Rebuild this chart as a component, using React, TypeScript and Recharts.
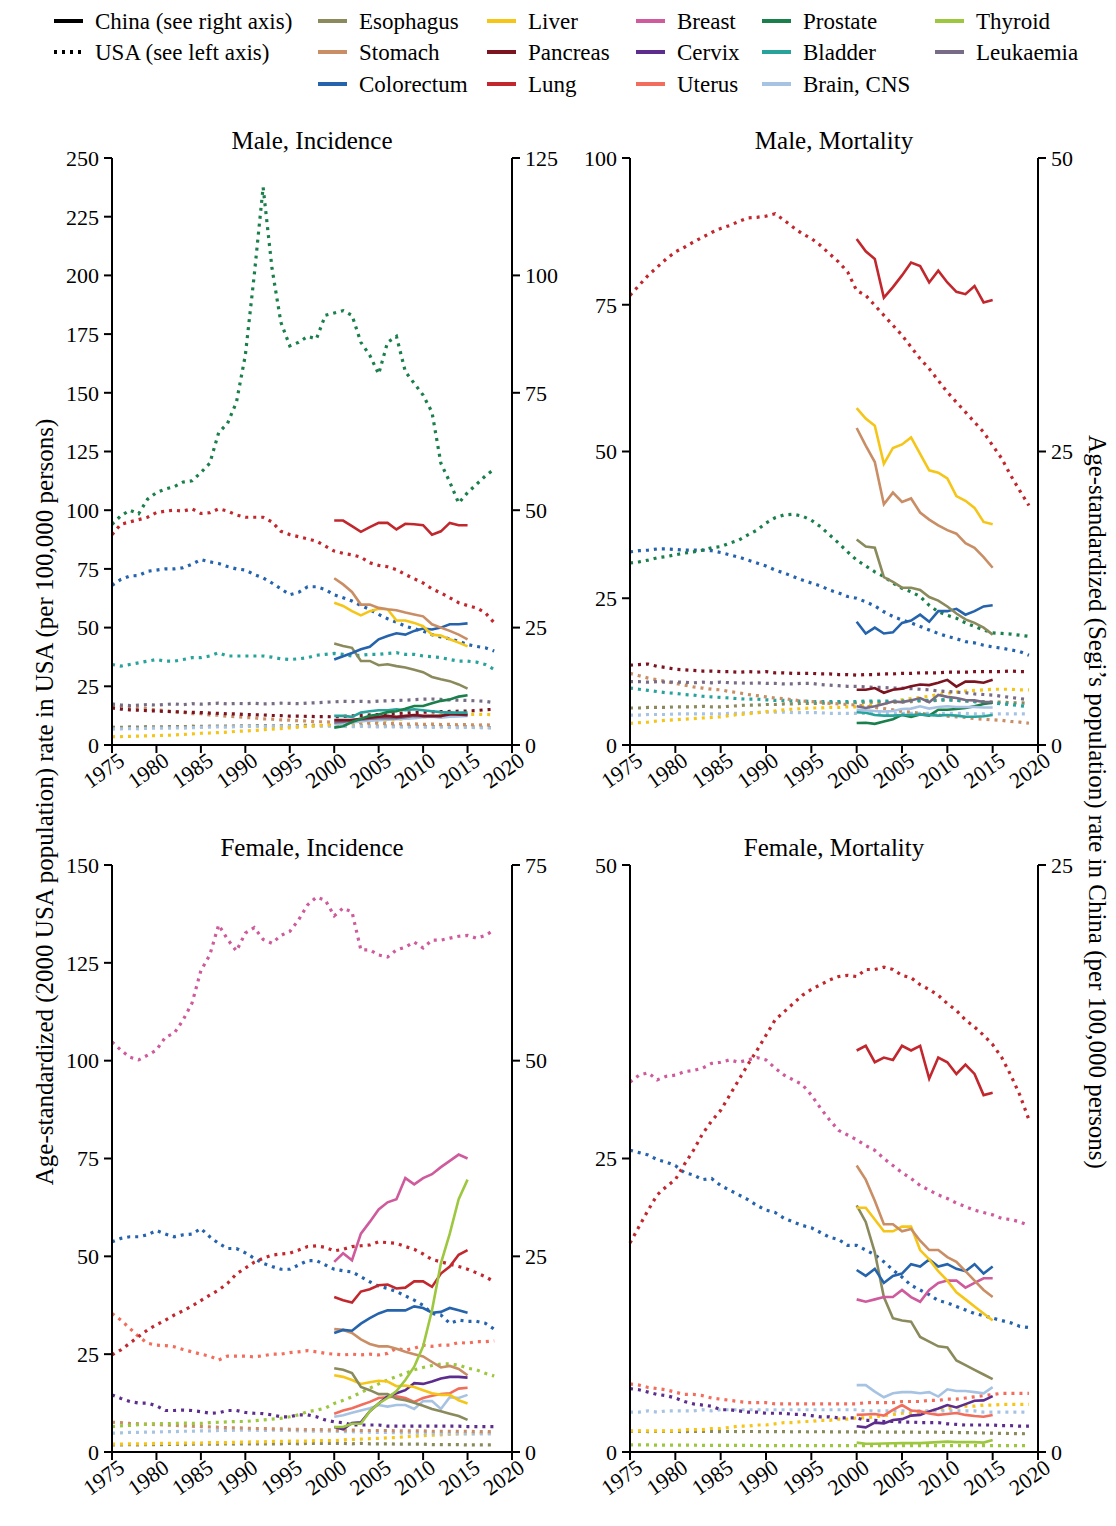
import React from 'react';
import { LineChart, Line, XAxis, YAxis } from 'recharts';

const FONT = '"Liberation Serif", "Times New Roman", Times, serif';

// ---------- categories ----------
const yearTicks = [1975, 1980, 1985, 1990, 1995, 2000, 2005, 2010, 2015, 2020];
const usaStartYear = 1975;
const chinaYears = [2000, 2001, 2002, 2003, 2004, 2005, 2006, 2007, 2008, 2009, 2010, 2011, 2012, 2013, 2014, 2015];

const cancerColors: Record<string, string> = {
  Esophagus: '#8b8a5c',
  Stomach: '#c98e65',
  Colorectum: '#2563ad',
  Liver: '#f5c518',
  Pancreas: '#7b1320',
  Lung: '#c1272d',
  Breast: '#cf5a9c',
  Cervix: '#5c2d8c',
  Uterus: '#f26d5b',
  Prostate: '#1a7f4b',
  Bladder: '#27a39c',
  'Brain, CNS': '#a7c3e3',
  Thyroid: '#9dc73e',
  Leukaemia: '#786b85',
};

// ---------- Male incidence, USA (1975-2018) ----------
const usaMaleIncProstate = [94, 97.6, 100, 98.5, 104.7, 107.5, 109, 110, 112, 112.5, 116, 120, 133, 137, 146, 166, 200, 237.6, 203, 180, 170, 171.5, 174, 173, 183, 184, 185, 183, 171.5, 166, 158, 171.5, 174, 159, 154, 149, 141.7, 120, 112, 103, 107.5, 111, 114.6, 117.5];
const usaMaleIncLung = [89.6, 94, 95, 96, 97, 99, 99.6, 100, 99.6, 100.6, 98.6, 98.9, 100.6, 99.6, 98, 97, 97, 97, 95, 91, 89.6, 88.7, 87.8, 86.8, 84.7, 82.6, 81.6, 81, 80, 77.6, 76.5, 75.9, 74.7, 72.6, 70.8, 69, 66.5, 64.8, 62.7, 60.6, 59.4, 58.4, 56.3, 52];
const usaMaleIncColorectum = [68, 70.5, 72, 72.2, 74, 74.5, 75, 75, 75.5, 77, 79, 78, 77.3, 76, 75, 74.5, 72.6, 71.2, 69, 66.5, 64, 65, 67.4, 67.4, 66.2, 64, 62.7, 61.3, 59.4, 57.7, 55.6, 53.8, 52.3, 50.6, 49.5, 48.5, 47, 46, 45.2, 44.2, 42.8, 42, 41.4, 40];
const usaMaleIncBladder = [34.3, 33.6, 34.3, 35, 35.7, 36.4, 35.7, 35.7, 36.4, 37.2, 37.2, 37.9, 39.3, 37.9, 37.9, 37.9, 37.9, 37.9, 37.4, 36.7, 36.4, 36.7, 37.2, 38.2, 38.6, 39, 38.6, 37.9, 38.2, 38.6, 38.6, 39, 39.3, 38.6, 38.6, 37.9, 37.6, 37.2, 36.4, 35.7, 35.7, 35.3, 34.3, 32.2];
const usaMaleIncLeukaemia = [17.5, 17, 16.8, 17, 17.2, 17, 17.3, 17.5, 17.2, 17.6, 17.4, 17.6, 17.8, 17.5, 17.7, 17.6, 17.8, 17.5, 17.6, 17.8, 17.7, 17.6, 17.9, 18, 18.2, 18.4, 18.6, 18.5, 18.6, 18.4, 18.7, 18.8, 19, 19.1, 19.3, 19.5, 19.6, 19.4, 19.2, 19.1, 19, 18.8, 18.6, 18];
const usaMaleIncPancreas = [15.8, 15.3, 15, 14.8, 14.6, 14.5, 14.3, 14.2, 14, 13.9, 13.8, 13.6, 13.5, 13.3, 13.2, 13, 12.9, 12.8, 12.6, 12.5, 12.3, 12.3, 12.2, 12.1, 12.1, 12, 12.2, 12.4, 12.6, 12.8, 13, 13.2, 13.4, 13.6, 13.8, 14, 14.1, 14.2, 14.3, 14.4, 14.5, 14.7, 15, 15.2];
const usaMaleIncStomach = [17, 16.5, 16.3, 15.7, 15.5, 14.9, 14.7, 14.1, 13.9, 13.4, 13.3, 12.8, 12.7, 12.2, 12.1, 11.7, 11.6, 11.1, 11, 10.7, 10.6, 10.3, 10.2, 9.9, 9.9, 9.7, 9.7, 9.5, 9.5, 9.3, 9.3, 9.1, 9.1, 8.9, 9, 8.8, 8.9, 8.7, 8.8, 8.6, 8.7, 8.5, 8.6, 8.4];
const usaMaleIncEsophagus = [7.6, 7.5, 7.7, 7.6, 7.8, 7.7, 7.8, 7.9, 7.8, 8, 7.9, 8, 8.1, 8, 8.2, 8.1, 8.2, 8.3, 8.2, 8.3, 8.2, 8.3, 8.4, 8.3, 8.2, 8.3, 8.2, 8.1, 8.2, 8.1, 8, 8.1, 8, 7.9, 8, 7.9, 7.8, 7.9, 7.8, 7.7, 7.8, 7.6, 7.5, 7.4];
const usaMaleIncBrain = [6.8, 6.9, 7, 6.9, 7.1, 7.2, 7.1, 7.3, 7.2, 7.4, 7.5, 7.6, 7.7, 7.6, 7.8, 7.9, 8, 7.9, 8, 8.1, 8, 7.9, 8, 8.1, 8, 8, 7.9, 7.8, 7.9, 7.8, 7.7, 7.8, 7.7, 7.6, 7.7, 7.6, 7.5, 7.6, 7.5, 7.4, 7.5, 7.4, 7.3, 7.2];
const usaMaleIncLiver = [3.5, 3.6, 3.7, 3.8, 3.9, 4, 4.1, 4.3, 4.5, 4.7, 5, 5.1, 5.3, 5.5, 5.8, 6, 6.2, 6.5, 6.8, 7, 7.3, 7.6, 7.9, 8.2, 8.5, 8.7, 9, 9.3, 9.6, 9.8, 10, 10.4, 10.8, 11.2, 11.6, 12, 12.3, 12.6, 12.8, 13, 13, 13.1, 13, 12.9];

// ---------- Male incidence, China (2000-2015) ----------
const cnMaleIncLung = [47.8, 47.8, 46.6, 45.4, 46.4, 47.3, 47.3, 45.9, 47.1, 47, 46.8, 44.8, 45.5, 47.3, 46.8, 46.8];
const cnMaleIncStomach = [35.5, 34.2, 32.6, 29.9, 29.9, 29.2, 28.9, 28.7, 28.2, 27.8, 27.4, 25.7, 25, 24.3, 23.5, 22.5];
const cnMaleIncLiver = [30.3, 29.6, 28.5, 27.6, 28.5, 29, 28.9, 26.5, 26.5, 26, 25.3, 23.5, 23.3, 22.5, 21.8, 21];
const cnMaleIncColorectum = [18.2, 18.9, 19.6, 20.4, 20.9, 22.5, 23.2, 23.8, 23.5, 24.3, 24.8, 24.6, 25, 25.7, 25.7, 25.9];
const cnMaleIncEsophagus = [21.6, 21.1, 20.7, 17.9, 17.9, 17, 17.2, 16.8, 16.5, 16, 15.5, 14.5, 14, 13.6, 12.9, 12];
const cnMaleIncProstate = [3.7, 4, 4.9, 5.6, 6.2, 6.5, 7, 7.2, 7.7, 8.3, 8.3, 8.9, 9.4, 9.7, 10.3, 10.6];
const cnMaleIncBladder = [6.2, 6.2, 6, 6.9, 7.2, 7.4, 7.4, 7.6, 7.4, 7.6, 7.4, 7.2, 7, 6.9, 6.9, 6.9];
const cnMaleIncPancreas = [5.3, 5.3, 5.3, 5.6, 5.8, 6, 6.2, 6, 6.2, 6.4, 6.2, 6.2, 6.2, 6.5, 6.5, 6.5];
const cnMaleIncLeukaemia = [4.8, 4.9, 5.3, 5.4, 5.6, 5.7, 5.7, 5.7, 5.9, 6.2, 6.1, 6.1, 6.1, 7, 6.5, 6.3];
const cnMaleIncBrain = [4.4, 4.6, 4.8, 5, 5.2, 5.3, 5.4, 5.5, 5.6, 5.7, 5.9, 6, 5.8, 6, 6.1, 6.2];

// ---------- Male mortality, USA (1975-2019) ----------
const usaMaleMortLung = [76.6, 78.3, 80, 81.4, 82.8, 84, 84.8, 85.7, 86.5, 87.3, 88, 88.5, 89.2, 89.8, 89.9, 90.1, 90.5, 89.4, 88.2, 87.1, 86.3, 85.1, 83.7, 82.3, 80.6, 77.4, 76.6, 74.9, 73.2, 71.5, 69.8, 67.8, 65.8, 64.1, 62.1, 60.1, 58.4, 56.7, 55, 53.3, 51, 48.8, 45.9, 43.3, 40.8];
const usaMaleMortProstate = [31, 31.2, 31.5, 31.9, 32.1, 32.4, 32.7, 32.9, 33.2, 33.6, 33.8, 34.4, 34.9, 35.8, 36.6, 37.8, 38.7, 39.2, 39.3, 39, 38.3, 37.2, 35.8, 34.4, 32.9, 31.5, 30.5, 29.5, 28.7, 27.6, 26.7, 26.1, 25.3, 23.8, 22.7, 22.1, 21.6, 20.8, 20.2, 19.6, 19.1, 19, 18.9, 18.7, 18.5];
const usaMaleMortColorectum = [32.9, 33.1, 33.2, 33.4, 33.4, 33.3, 33.2, 33.2, 33.2, 33.1, 32.8, 32.4, 32, 31.5, 31, 30.5, 29.8, 29.3, 28.7, 28.1, 27.6, 27.1, 26.4, 25.9, 25.3, 25, 24.4, 23.7, 22.7, 21.9, 21.3, 20.8, 20.2, 19.6, 19, 18.5, 18.1, 17.6, 17.4, 17, 16.7, 16.5, 16.2, 15.9, 15.3];
const usaMaleMortPancreas = [13.6, 13.7, 13.8, 13.4, 13.2, 12.9, 12.8, 12.7, 12.6, 12.6, 12.5, 12.5, 12.4, 12.5, 12.4, 12.5, 12.3, 12.3, 12.2, 12.2, 12.2, 12.1, 12.1, 12, 12, 11.9, 12, 12, 12.1, 12.1, 12.2, 12.2, 12.3, 12.3, 12.3, 12.4, 12.4, 12.4, 12.5, 12.5, 12.5, 12.5, 12.6, 12.5, 12.5];
const usaMaleMortLeukaemia = [10.8, 10.8, 10.7, 10.8, 10.7, 10.7, 10.7, 10.6, 10.7, 10.6, 10.7, 10.6, 10.6, 10.5, 10.6, 10.5, 10.5, 10.4, 10.4, 10.5, 10.5, 10.3, 10.2, 10.1, 10, 10, 9.9, 9.8, 9.8, 9.7, 9.7, 9.6, 9.5, 9.4, 9.2, 9.1, 9, 8.9, 8.7, 8.6, 8.5, 8.3, 8.1, 7.9, 7.7];
const usaMaleMortStomach = [12.2, 11.8, 11.4, 11.1, 10.8, 10.5, 10.2, 9.9, 9.7, 9.5, 9.4, 9.1, 8.9, 8.6, 8.4, 8.2, 8, 7.9, 7.7, 7.5, 7.4, 7.3, 7.1, 7, 6.9, 6.8, 6.6, 6.4, 6.2, 6, 5.7, 5.6, 5.4, 5.2, 5.1, 4.9, 4.8, 4.7, 4.5, 4.4, 4.3, 4.2, 4, 3.9, 3.7];
const usaMaleMortBladder = [9.7, 9.5, 9.3, 9.1, 8.9, 8.8, 8.6, 8.5, 8.3, 8.2, 8.1, 8, 7.9, 7.8, 7.8, 7.7, 7.6, 7.6, 7.5, 7.5, 7.4, 7.4, 7.4, 7.4, 7.4, 7.4, 7.5, 7.5, 7.5, 7.5, 7.5, 7.6, 7.6, 7.6, 7.7, 7.7, 7.6, 7.5, 7.4, 7.3, 7.2, 7, 6.9, 6.7, 6.5];
const usaMaleMortEsophagus = [6.3, 6.3, 6.4, 6.4, 6.4, 6.5, 6.5, 6.5, 6.6, 6.5, 6.5, 6.6, 6.7, 6.8, 6.8, 6.9, 6.9, 7, 7, 7.1, 7.1, 7.1, 7.2, 7.2, 7.2, 7.2, 7.3, 7.3, 7.3, 7.3, 7.3, 7.4, 7.5, 7.5, 7.6, 7.7, 7.6, 7.5, 7.4, 7.4, 7.3, 7.3, 7.2, 7.2, 7.1];
const usaMaleMortLiver = [3.7, 3.8, 3.9, 4.1, 4.2, 4.3, 4.4, 4.5, 4.6, 4.7, 4.8, 5, 5.2, 5.3, 5.5, 5.7, 5.8, 6, 6.1, 6.2, 6.3, 6.3, 6.4, 6.4, 6.5, 6.5, 6.7, 6.9, 7.1, 7.3, 7.7, 7.9, 8.1, 8.3, 8.6, 8.8, 9, 9.2, 9.3, 9.4, 9.5, 9.5, 9.5, 9.4, 9.4];
const usaMaleMortBrain = [5.1, 5.1, 5.2, 5.2, 5.2, 5.3, 5.3, 5.3, 5.3, 5.3, 5.3, 5.4, 5.4, 5.5, 5.5, 5.6, 5.6, 5.6, 5.5, 5.5, 5.5, 5.5, 5.4, 5.4, 5.4, 5.4, 5.4, 5.4, 5.4, 5.4, 5.4, 5.4, 5.4, 5.4, 5.4, 5.4, 5.4, 5.4, 5.3, 5.3, 5.3, 5.3, 5.3, 5.3, 5.3];

// ---------- Male mortality, China (2000-2015) ----------
const cnMaleMortLung = [43.1, 42.05, 41.4, 38.1, 39, 40, 41.1, 40.8, 39.4, 40.4, 39.4, 38.6, 38.4, 39.1, 37.7, 37.9];
const cnMaleMortLiver = [28.7, 27.8, 27.2, 23.95, 25.3, 25.6, 26.2, 24.8, 23.4, 23.2, 22.7, 21.2, 20.8, 20.2, 19, 18.8];
const cnMaleMortStomach = [27, 25.5, 24.1, 20.5, 21.5, 20.7, 21, 19.8, 19.2, 18.7, 18.3, 18, 17.2, 16.8, 16, 15.1];
const cnMaleMortEsophagus = [17.5, 16.9, 16.8, 14.3, 13.9, 13.4, 13.4, 13.2, 12.6, 12.3, 11.8, 11.2, 10.7, 10.4, 10, 9.4];
const cnMaleMortColorectum = [10.5, 9.5, 10, 9.5, 9.6, 10.4, 10.6, 11.1, 10.5, 11.4, 11.4, 11.6, 11.1, 11.4, 11.8, 11.9];
const cnMaleMortPancreas = [4.7, 4.7, 4.85, 4.45, 4.7, 4.8, 5, 5.15, 5.1, 5.3, 5.55, 4.97, 5.4, 5.4, 5.3, 5.55];
const cnMaleMortLeukaemia = [3.3, 3.15, 3.3, 3.5, 3.7, 3.65, 3.8, 4, 3.65, 4.26, 4.1, 4, 3.83, 3.8, 3.66, 3.66];
const cnMaleMortBrain = [3, 2.95, 2.9, 2.85, 2.9, 3.07, 3.1, 3.3, 3.1, 3.24, 3.3, 3.24, 3.24, 3.24, 3.2, 3.2];
const cnMaleMortBladder = [2.8, 2.75, 2.56, 2.5, 2.5, 2.56, 2.56, 2.6, 2.56, 2.5, 2.56, 2.5, 2.4, 2.4, 2.45, 2.56];
const cnMaleMortProstate = [1.87, 1.9, 1.8, 2, 2.2, 2.56, 2.4, 2.6, 2.5, 3, 3, 3.07, 3.15, 3.3, 3.5, 3.6];

// ---------- Female incidence, USA (1975-2018) ----------
const usaFemIncBreast = [104.8, 102.7, 100.9, 100.2, 101.4, 102.7, 106, 107, 110.4, 114.7, 123, 127, 134.7, 131, 128, 132.6, 134, 131, 130, 132, 133, 136, 139.8, 141.8, 141, 137, 139, 138, 128.3, 128.3, 127, 126.5, 128.3, 129, 130.3, 128.8, 130.8, 130.8, 131.3, 131.8, 132, 131.3, 132, 133.4];
const usaFemIncColorectum = [53.7, 54.6, 55, 55, 55.5, 56.6, 55.7, 55, 55.5, 55.7, 57.1, 55, 53.3, 52, 52, 50.9, 49.5, 48.2, 47.4, 46.7, 46.7, 47.8, 48.9, 48.9, 47.8, 46.7, 46.3, 46, 44.8, 43.5, 42.4, 41.8, 41, 39.9, 38.8, 37.5, 35.4, 35, 32.9, 33.7, 33.4, 33.4, 32.9, 31.4];
const usaFemIncLung = [24.8, 26.1, 27.8, 29.5, 31.2, 32.5, 33.7, 35, 36.1, 37.3, 38.7, 40.1, 41.4, 43.1, 45.5, 47, 48.5, 49.5, 50.3, 50.6, 50.8, 51.6, 52.5, 52.7, 52.3, 51.4, 51.8, 52.5, 52.7, 52.9, 53.7, 53.5, 53.3, 52.5, 51.8, 50.6, 49.2, 48.6, 48, 47.4, 46.7, 45.8, 44.8, 43.5];
const usaFemIncUterus = [35.4, 33.7, 31.6, 29.5, 27.8, 27.3, 27.2, 26.9, 26.2, 25.6, 25, 24.5, 23.5, 24.5, 24.5, 24.5, 24.3, 24.6, 25, 25, 25.4, 25.6, 25.9, 25.6, 25.2, 25, 24.8, 25, 24.8, 25, 24.8, 25.2, 26.5, 26, 26.5, 27.3, 27, 27.3, 27.3, 28, 27.8, 28.2, 28.2, 28.4];
const usaFemIncThyroid = [6.5, 6.7, 6.8, 7, 7.1, 7.3, 7.2, 7.3, 7.4, 7.3, 7.3, 7.5, 7.6, 7.7, 7.8, 7.8, 8, 8.2, 8.4, 8.6, 9, 9.5, 10.3, 10.7, 11.2, 12.4, 13.2, 14.1, 15.2, 16.3, 17.4, 18.4, 19.3, 20.1, 21, 21.6, 22.1, 22.5, 22.5, 22.2, 21.4, 21, 20.1, 19.4];
const usaFemIncCervix = [14.6, 13.7, 12.9, 12.5, 12.5, 11.8, 10.6, 10.6, 10.7, 10.6, 10.3, 9.9, 10, 10.6, 10.6, 10.1, 9.9, 9.8, 9.5, 9, 9, 9.5, 9.5, 9, 8.2, 7.7, 7.5, 6.9, 6.9, 6.9, 6.9, 6.6, 6.6, 6.6, 6.6, 6.6, 6.6, 6.6, 6.6, 6.6, 6.5, 6.5, 6.5, 6.5];
const usaFemIncStomach = [7.6, 7.5, 7.3, 7.2, 7.1, 7, 6.9, 6.8, 6.7, 6.6, 6.5, 6.4, 6.3, 6.2, 6.2, 6.1, 6, 6, 5.9, 5.9, 5.8, 5.8, 5.7, 5.7, 5.7, 5.6, 5.6, 5.6, 5.5, 5.5, 5.5, 5.5, 5.4, 5.4, 5.4, 5.4, 5.3, 5.3, 5.3, 5.3, 5.3, 5.2, 5.2, 5.2];
const usaFemIncBrain = [4.8, 4.9, 5, 5, 5.1, 5.1, 5.2, 5.2, 5.3, 5.3, 5.4, 5.4, 5.5, 5.5, 5.6, 5.6, 5.6, 5.5, 5.6, 5.5, 5.5, 5.4, 5.4, 5.3, 5.3, 5.3, 5.2, 5.2, 5.1, 5.1, 5, 5, 4.9, 4.9, 4.9, 4.8, 4.8, 4.7, 4.7, 4.7, 4.6, 4.6, 4.6, 4.6];
const usaFemIncLiver = [2, 2, 2.1, 2.1, 2.1, 2.2, 2.2, 2.2, 2.3, 2.3, 2.3, 2.4, 2.4, 2.4, 2.5, 2.5, 2.6, 2.6, 2.7, 2.7, 2.8, 2.8, 2.8, 2.9, 2.9, 2.9, 3.1, 3.2, 3.3, 3.4, 3.5, 3.6, 3.7, 3.9, 4, 4.2, 4.3, 4.4, 4.5, 4.6, 4.7, 4.7, 4.8, 4.8];
const usaFemIncEsophagus = [1.8, 1.8, 1.9, 1.8, 1.9, 1.9, 1.9, 2, 1.9, 2, 2, 2, 2, 2.1, 2, 2.1, 2.1, 2.1, 2.1, 2.1, 2.2, 2.1, 2.2, 2.2, 2.2, 2.2, 2.2, 2.1, 2.2, 2.1, 2.1, 2.1, 2, 2, 2, 2, 1.9, 1.9, 1.9, 1.9, 1.8, 1.8, 1.8, 1.8];

// ---------- Female incidence, China (2000-2015) ----------
const cnFemIncBreast = [24.3, 25.4, 24.5, 27.9, 29.4, 31, 31.9, 32.3, 35, 34.2, 35, 35.5, 36.4, 37.2, 38, 37.5];
const cnFemIncThyroid = [3.2, 3.2, 3.6, 3.6, 5.2, 6.2, 6.9, 7.8, 9.2, 10.9, 13.5, 18.1, 24.1, 27.9, 32.3, 34.8];
const cnFemIncLung = [19.8, 19.4, 19.1, 20.5, 20.8, 21.3, 21.4, 20.9, 21, 21.8, 21.8, 21.1, 22.8, 23.7, 25.2, 25.8];
const cnFemIncColorectum = [15.2, 15.6, 15.5, 16.4, 17.1, 17.7, 18.1, 18.1, 18.1, 18.6, 18.4, 17.8, 17.9, 18.4, 18.1, 17.8];
const cnFemIncStomach = [15.7, 15.6, 15.2, 14.4, 13.8, 13.5, 13.5, 13.2, 12.8, 12.5, 12.2, 11.5, 10.8, 11, 10.6, 9.8];
const cnFemIncEsophagus = [10.7, 10.5, 10.1, 8.3, 7.9, 7.4, 7.4, 6.8, 6.6, 6.3, 5.9, 5.5, 5.2, 4.9, 4.6, 4.1];
const cnFemIncLiver = [9.8, 9.6, 9.2, 8.7, 8.9, 9.1, 9, 8.4, 8.5, 8.3, 7.9, 7.5, 7.3, 7.3, 6.6, 6.2];
const cnFemIncCervix = [3.2, 2.9, 3.7, 3.8, 5.2, 6.2, 7.1, 7.5, 7.9, 8.8, 8.7, 9, 9.4, 9.6, 9.6, 9.5];
const cnFemIncUterus = [4.9, 5.3, 5.6, 6, 6.4, 6.9, 7, 7.1, 6.9, 6.4, 6.9, 7.2, 7.4, 7.5, 8.1, 8.2];
const cnFemIncBrain = [4.5, 4.7, 5, 5.3, 5.6, 6, 5.8, 6, 6, 5.5, 6.5, 6.5, 5.5, 7, 6.9, 7.3];

// ---------- Female mortality, USA (1975-2019) ----------
const usaFemMortLung = [17.8, 19.2, 20.6, 21.9, 22.6, 23.2, 24.5, 25.7, 27.1, 28.2, 29.1, 30.4, 31.7, 33, 34.2, 35.5, 36.8, 37.5, 38.2, 38.9, 39.4, 39.8, 40.2, 40.5, 40.6, 40.5, 41.1, 41.1, 41.3, 41.1, 40.6, 40.4, 39.8, 39.4, 38.9, 38.2, 37.6, 36.8, 36.2, 35.5, 34.7, 33.6, 32.1, 30.4, 28.3];
const usaFemMortBreast = [31.5, 32.1, 32.3, 31.7, 32, 32.1, 32.4, 32.5, 32.7, 33.1, 33.2, 33.4, 33.2, 33.4, 33.6, 33.4, 32.7, 32.1, 31.7, 31.3, 30.4, 29.3, 28.3, 27.4, 27, 26.6, 26.1, 25.7, 25, 24.4, 23.8, 23.3, 22.7, 22.3, 21.9, 21.6, 21.2, 20.9, 20.6, 20.4, 20.2, 19.9, 19.8, 19.6, 19.3];
const usaFemMortColorectum = [25.7, 25.5, 25.3, 24.9, 24.7, 24.4, 23.8, 23.6, 23.2, 23.3, 22.7, 22.3, 21.9, 21.5, 21, 20.6, 20.4, 19.9, 19.6, 19.3, 19.1, 18.7, 18.3, 18.1, 17.6, 17.6, 17.2, 16.8, 16.2, 15.5, 14.9, 14.2, 13.8, 13.4, 12.9, 12.7, 12.4, 12.1, 11.8, 11.6, 11.4, 11.2, 11, 10.7, 10.6];
const usaFemMortUterus = [5.8, 5.7, 5.5, 5.4, 5.3, 5.1, 4.9, 4.9, 4.8, 4.6, 4.5, 4.4, 4.3, 4.2, 4.2, 4.2, 4.1, 4.1, 4.1, 4.1, 4.1, 4.1, 4.1, 4.1, 4.1, 4.1, 4.2, 4.2, 4.2, 4.2, 4.3, 4.3, 4.3, 4.4, 4.4, 4.5, 4.5, 4.6, 4.7, 4.8, 4.9, 5, 5, 5, 5];
const usaFemMortCervix = [5.4, 5.3, 5.1, 4.9, 4.8, 4.6, 4.3, 4.1, 4, 3.9, 3.6, 3.6, 3.5, 3.4, 3.4, 3.3, 3.3, 3.3, 3.2, 3.2, 3.1, 3, 3, 2.9, 2.9, 2.9, 2.7, 2.7, 2.6, 2.6, 2.55, 2.55, 2.5, 2.5, 2.5, 2.4, 2.35, 2.3, 2.3, 2.3, 2.3, 2.25, 2.25, 2.2, 2.2];
const usaFemMortBrain = [3.4, 3.4, 3.5, 3.4, 3.5, 3.5, 3.5, 3.5, 3.6, 3.5, 3.6, 3.6, 3.6, 3.6, 3.6, 3.6, 3.6, 3.6, 3.6, 3.6, 3.6, 3.6, 3.6, 3.6, 3.6, 3.6, 3.5, 3.5, 3.5, 3.5, 3.5, 3.5, 3.5, 3.5, 3.5, 3.5, 3.5, 3.5, 3.5, 3.4, 3.4, 3.4, 3.4, 3.4, 3.4];
const usaFemMortLiver = [1.8, 1.8, 1.8, 1.8, 1.8, 1.8, 1.9, 1.9, 1.9, 2, 2, 2.1, 2.2, 2.2, 2.3, 2.3, 2.4, 2.5, 2.5, 2.6, 2.6, 2.7, 2.7, 2.8, 2.8, 2.9, 2.9, 3, 3.1, 3.2, 3.3, 3.3, 3.4, 3.5, 3.6, 3.7, 3.8, 3.9, 3.9, 4, 4, 4.05, 4.05, 4.05, 4.05];
const usaFemMortEsophagus = [1.75, 1.76, 1.74, 1.75, 1.76, 1.75, 1.74, 1.75, 1.76, 1.75, 1.74, 1.75, 1.74, 1.75, 1.74, 1.73, 1.74, 1.73, 1.72, 1.73, 1.72, 1.73, 1.72, 1.71, 1.72, 1.71, 1.7, 1.71, 1.7, 1.69, 1.7, 1.69, 1.68, 1.69, 1.68, 1.67, 1.66, 1.65, 1.64, 1.62, 1.6, 1.59, 1.57, 1.56, 1.55];
const usaFemMortThyroid = [0.6, 0.6, 0.6, 0.59, 0.59, 0.58, 0.58, 0.58, 0.57, 0.57, 0.57, 0.56, 0.56, 0.56, 0.55, 0.55, 0.55, 0.55, 0.55, 0.55, 0.54, 0.54, 0.54, 0.54, 0.54, 0.54, 0.54, 0.54, 0.54, 0.54, 0.55, 0.55, 0.55, 0.55, 0.55, 0.55, 0.55, 0.55, 0.55, 0.55, 0.55, 0.55, 0.55, 0.55, 0.55];

// ---------- Female mortality, China (2000-2015) ----------
const cnFemMortLung = [17.1, 17.3, 16.6, 16.8, 16.7, 17.3, 17.1, 17.3, 15.9, 16.8, 16.6, 16.1, 16.5, 16.1, 15.2, 15.3];
const cnFemMortStomach = [12.2, 11.6, 10.7, 9.7, 9.7, 9.4, 9.5, 9, 8.6, 8.6, 8.3, 8.1, 7.7, 7.3, 6.9, 6.6];
const cnFemMortLiver = [10.4, 10.4, 9.9, 9.4, 9.4, 9.6, 9.6, 8.6, 8.2, 7.7, 7.3, 6.8, 6.5, 6.2, 5.9, 5.6];
const cnFemMortColorectum = [7.75, 7.5, 7.8, 7.2, 7.5, 7.6, 8, 7.9, 8.2, 7.9, 8, 7.8, 7.7, 8, 7.6, 7.9];
const cnFemMortBreast = [6.5, 6.4, 6.5, 6.6, 6.6, 6.9, 6.6, 6.4, 6.9, 7.2, 7.3, 7.3, 7, 7.2, 7.4, 7.4];
const cnFemMortEsophagus = [10.5, 9.8, 8.5, 6.6, 5.7, 5.6, 5.55, 4.9, 4.7, 4.5, 4.45, 3.9, 3.7, 3.5, 3.3, 3.1];
const cnFemMortBrain = [2.85, 2.85, 2.57, 2.33, 2.5, 2.55, 2.55, 2.5, 2.55, 2.36, 2.67, 2.6, 2.6, 2.55, 2.5, 2.76];
const cnFemMortUterus = [1.58, 1.6, 1.62, 1.55, 1.79, 2, 1.77, 1.73, 1.64, 1.58, 1.62, 1.66, 1.58, 1.53, 1.5, 1.58];
const cnFemMortCervix = [1.1, 1.05, 1.25, 1.22, 1.36, 1.4, 1.55, 1.58, 1.73, 1.85, 2, 1.9, 2.04, 2.18, 2.2, 2.38];
const cnFemMortThyroid = [0.4, 0.35, 0.35, 0.36, 0.37, 0.38, 0.38, 0.38, 0.4, 0.42, 0.44, 0.42, 0.42, 0.42, 0.4, 0.51];

// ---------- axis ticks ----------
const maleIncLeftTicks = [0, 25, 50, 75, 100, 125, 150, 175, 200, 225, 250];
const maleIncRightTicks = [0, 25, 50, 75, 100, 125];
const maleMortLeftTicks = [0, 25, 50, 75, 100];
const maleMortRightTicks = [0, 25, 50];
const femIncLeftTicks = [0, 25, 50, 75, 100, 125, 150];
const femIncRightTicks = [0, 25, 50, 75];
const femMortLeftTicks = [0, 25, 50];
const femMortRightTicks = [0, 25];

type Series = [string, number[]];

interface PanelSpec {
  title: string;
  left: number;
  top: number;
  width: number;
  height: number;
  margin: { top: number; right: number; bottom: number; left: number };
  leftTicks: number[];
  rightTicks: number[];
  usa: Series[];
  china: Series[];
}

const panels: PanelSpec[] = [
  {
    title: 'Male, Incidence',
    left: 0, top: 120, width: 570, height: 690,
    margin: { top: 38, right: 18, bottom: 5, left: 52 },
    leftTicks: maleIncLeftTicks, rightTicks: maleIncRightTicks,
    usa: [
      ['Esophagus', usaMaleIncEsophagus], ['Brain, CNS', usaMaleIncBrain], ['Liver', usaMaleIncLiver],
      ['Stomach', usaMaleIncStomach], ['Pancreas', usaMaleIncPancreas], ['Leukaemia', usaMaleIncLeukaemia],
      ['Bladder', usaMaleIncBladder], ['Colorectum', usaMaleIncColorectum], ['Lung', usaMaleIncLung],
      ['Prostate', usaMaleIncProstate],
    ],
    china: [
      ['Brain, CNS', cnMaleIncBrain], ['Leukaemia', cnMaleIncLeukaemia], ['Pancreas', cnMaleIncPancreas],
      ['Bladder', cnMaleIncBladder], ['Prostate', cnMaleIncProstate], ['Esophagus', cnMaleIncEsophagus],
      ['Colorectum', cnMaleIncColorectum], ['Liver', cnMaleIncLiver], ['Stomach', cnMaleIncStomach],
      ['Lung', cnMaleIncLung],
    ],
  },
  {
    title: 'Male, Mortality',
    left: 560, top: 120, width: 556, height: 690,
    margin: { top: 38, right: 38, bottom: 5, left: 10 },
    leftTicks: maleMortLeftTicks, rightTicks: maleMortRightTicks,
    usa: [
      ['Brain, CNS', usaMaleMortBrain], ['Liver', usaMaleMortLiver], ['Esophagus', usaMaleMortEsophagus],
      ['Bladder', usaMaleMortBladder], ['Stomach', usaMaleMortStomach], ['Leukaemia', usaMaleMortLeukaemia],
      ['Pancreas', usaMaleMortPancreas], ['Colorectum', usaMaleMortColorectum], ['Prostate', usaMaleMortProstate],
      ['Lung', usaMaleMortLung],
    ],
    china: [
      ['Prostate', cnMaleMortProstate], ['Bladder', cnMaleMortBladder], ['Brain, CNS', cnMaleMortBrain],
      ['Leukaemia', cnMaleMortLeukaemia], ['Pancreas', cnMaleMortPancreas], ['Colorectum', cnMaleMortColorectum],
      ['Esophagus', cnMaleMortEsophagus], ['Stomach', cnMaleMortStomach], ['Liver', cnMaleMortLiver],
      ['Lung', cnMaleMortLung],
    ],
  },
  {
    title: 'Female, Incidence',
    left: 0, top: 827, width: 570, height: 690,
    margin: { top: 38, right: 18, bottom: 5, left: 52 },
    leftTicks: femIncLeftTicks, rightTicks: femIncRightTicks,
    usa: [
      ['Esophagus', usaFemIncEsophagus], ['Liver', usaFemIncLiver], ['Brain, CNS', usaFemIncBrain],
      ['Stomach', usaFemIncStomach], ['Cervix', usaFemIncCervix], ['Thyroid', usaFemIncThyroid],
      ['Uterus', usaFemIncUterus], ['Colorectum', usaFemIncColorectum], ['Lung', usaFemIncLung],
      ['Breast', usaFemIncBreast],
    ],
    china: [
      ['Brain, CNS', cnFemIncBrain], ['Uterus', cnFemIncUterus], ['Cervix', cnFemIncCervix],
      ['Liver', cnFemIncLiver], ['Esophagus', cnFemIncEsophagus], ['Stomach', cnFemIncStomach],
      ['Colorectum', cnFemIncColorectum], ['Lung', cnFemIncLung], ['Breast', cnFemIncBreast],
      ['Thyroid', cnFemIncThyroid],
    ],
  },
  {
    title: 'Female, Mortality',
    left: 560, top: 827, width: 556, height: 690,
    margin: { top: 38, right: 38, bottom: 5, left: 10 },
    leftTicks: femMortLeftTicks, rightTicks: femMortRightTicks,
    usa: [
      ['Thyroid', usaFemMortThyroid], ['Esophagus', usaFemMortEsophagus], ['Liver', usaFemMortLiver],
      ['Brain, CNS', usaFemMortBrain], ['Cervix', usaFemMortCervix], ['Uterus', usaFemMortUterus],
      ['Colorectum', usaFemMortColorectum], ['Breast', usaFemMortBreast], ['Lung', usaFemMortLung],
    ],
    china: [
      ['Thyroid', cnFemMortThyroid], ['Cervix', cnFemMortCervix], ['Uterus', cnFemMortUterus],
      ['Brain, CNS', cnFemMortBrain], ['Esophagus', cnFemMortEsophagus], ['Breast', cnFemMortBreast],
      ['Colorectum', cnFemMortColorectum], ['Liver', cnFemMortLiver], ['Stomach', cnFemMortStomach],
      ['Lung', cnFemMortLung],
    ],
  },
];

// legend layout: sample start x per column, baseline centre y per row
const legendColumns = [54, 318, 487, 636, 762, 935];
const legendRows = [21, 52, 84];
const legendEntries: { label: string; color: string; dotted?: boolean; col: number; row: number }[] = [
  { label: 'China (see right axis)', color: '#000', col: 0, row: 0 },
  { label: 'USA (see left axis)', color: '#000', dotted: true, col: 0, row: 1 },
  { label: 'Esophagus', color: cancerColors.Esophagus, col: 1, row: 0 },
  { label: 'Stomach', color: cancerColors.Stomach, col: 1, row: 1 },
  { label: 'Colorectum', color: cancerColors.Colorectum, col: 1, row: 2 },
  { label: 'Liver', color: cancerColors.Liver, col: 2, row: 0 },
  { label: 'Pancreas', color: cancerColors.Pancreas, col: 2, row: 1 },
  { label: 'Lung', color: cancerColors.Lung, col: 2, row: 2 },
  { label: 'Breast', color: cancerColors.Breast, col: 3, row: 0 },
  { label: 'Cervix', color: cancerColors.Cervix, col: 3, row: 1 },
  { label: 'Uterus', color: cancerColors.Uterus, col: 3, row: 2 },
  { label: 'Prostate', color: cancerColors.Prostate, col: 4, row: 0 },
  { label: 'Bladder', color: cancerColors.Bladder, col: 4, row: 1 },
  { label: 'Brain, CNS', color: cancerColors['Brain, CNS'], col: 4, row: 2 },
  { label: 'Thyroid', color: cancerColors.Thyroid, col: 5, row: 0 },
  { label: 'Leukaemia', color: cancerColors.Leukaemia, col: 5, row: 1 },
];

const keyOf = (prefix: string, name: string) => `${prefix}_${name.replace(/[^A-Za-z]/g, '')}`;

function buildRows(p: PanelSpec) {
  const usaLen = Math.max(...p.usa.map(([, v]) => v.length));
  const rows: Record<string, number>[] = [];
  for (let i = 0; i < usaLen; i++) {
    const year = usaStartYear + i;
    const row: Record<string, number> = { year };
    p.usa.forEach(([name, vals]) => {
      if (i < vals.length) row[keyOf('usa', name)] = vals[i];
    });
    const ci = chinaYears.indexOf(year);
    if (ci >= 0) {
      p.china.forEach(([name, vals]) => {
        row[keyOf('cn', name)] = vals[ci];
      });
    }
    rows.push(row);
  }
  return rows;
}

const tickStyle = { fontFamily: FONT, fontSize: 22, fill: '#000' };

const YearTick = (props: any) => {
  const { x, y, payload } = props;
  const ax = x + 14;
  const ay = y + 11;
  return (
    <text
      x={ax}
      y={ay}
      transform={`rotate(-35 ${ax} ${ay})`}
      textAnchor="end"
      fontFamily={FONT}
      fontSize={22}
      fill="#000"
    >
      {payload.value}
    </text>
  );
};

function Panel({ p }: { p: PanelSpec }) {
  const data = buildRows(p);
  const leftMax = p.leftTicks[p.leftTicks.length - 1];
  const rightMax = p.rightTicks[p.rightTicks.length - 1];
  const plotLeft = p.margin.left + 60;
  const plotWidth = p.width - p.margin.left - p.margin.right - 100;
  return (
    <div style={{ position: 'absolute', left: p.left, top: p.top }}>
      <LineChart width={p.width} height={p.height} data={data} margin={p.margin}>
        <XAxis
          dataKey="year"
          type="number"
          domain={[1975, 2020]}
          ticks={yearTicks}
          interval={0}
          height={60}
          tickSize={8}
          tickMargin={0}
          axisLine={{ stroke: '#000', strokeWidth: 2 }}
          tickLine={{ stroke: '#000', strokeWidth: 2 }}
          tick={<YearTick />}
        />
        <YAxis
          yAxisId="usa"
          orientation="left"
          width={60}
          domain={[0, leftMax]}
          ticks={p.leftTicks}
          interval={0}
          allowDataOverflow
          tickSize={8}
          tickMargin={5}
          axisLine={{ stroke: '#000', strokeWidth: 2 }}
          tickLine={{ stroke: '#000', strokeWidth: 2 }}
          tick={tickStyle}
        />
        <YAxis
          yAxisId="cn"
          orientation="right"
          width={40}
          domain={[0, rightMax]}
          ticks={p.rightTicks}
          interval={0}
          allowDataOverflow
          tickSize={8}
          tickMargin={5}
          axisLine={{ stroke: '#000', strokeWidth: 2 }}
          tickLine={{ stroke: '#000', strokeWidth: 2 }}
          tick={tickStyle}
        />
        {p.usa.map(([name]) => (
          <Line
            key={keyOf('usa', name)}
            yAxisId="usa"
            dataKey={keyOf('usa', name)}
            type="linear"
            stroke={cancerColors[name]}
            strokeWidth={3.2}
            strokeDasharray="3 5"
            dot={false}
            activeDot={false}
            connectNulls={false}
            isAnimationActive={false}
          />
        ))}
        {p.china.map(([name]) => (
          <Line
            key={keyOf('cn', name)}
            yAxisId="cn"
            dataKey={keyOf('cn', name)}
            type="linear"
            stroke={cancerColors[name]}
            strokeWidth={2.6}
            dot={false}
            activeDot={false}
            connectNulls={false}
            isAnimationActive={false}
          />
        ))}
      </LineChart>
      <div
        style={{
          position: 'absolute',
          left: plotLeft - 50,
          width: plotWidth + 100,
          top: 6,
          textAlign: 'center',
          fontFamily: FONT,
          fontSize: 25,
          lineHeight: '30px',
          color: '#000',
          whiteSpace: 'nowrap',
        }}
      >
        {p.title}
      </div>
    </div>
  );
}

function Legend() {
  return (
    <svg width={1116} height={105} style={{ position: 'absolute', left: 0, top: 0 }}>
      {legendEntries.map((e) => {
        const x = legendColumns[e.col];
        const y = legendRows[e.row];
        return (
          <g key={e.label}>
            <line
              x1={x}
              x2={x + 29}
              y1={y}
              y2={y}
              stroke={e.color}
              strokeWidth={4}
              strokeDasharray={e.dotted ? '3 5' : undefined}
            />
            <text x={x + 41} y={y + 8} fontFamily={FONT} fontSize={23} fill="#000">
              {e.label}
            </text>
          </g>
        );
      })}
    </svg>
  );
}

const axisTitleStyle: React.CSSProperties = {
  position: 'absolute',
  top: 802,
  fontFamily: FONT,
  fontSize: 25,
  whiteSpace: 'nowrap',
  color: '#000',
};

export default function App() {
  return (
    <div
      style={{
        position: 'absolute',
        left: 0,
        top: 0,
        width: 1116,
        height: 1526,
        overflow: 'hidden',
        background: '#fff',
      }}
    >
      <Legend />
      {panels.map((p) => (
        <Panel key={p.title} p={p} />
      ))}
      <div style={{ ...axisTitleStyle, left: 45, transform: 'translate(-50%, -50%) rotate(-90deg)' }}>
        Age-standardized (2000 USA population) rate in USA (per 100,000 persons)
      </div>
      <div style={{ ...axisTitleStyle, left: 1097, transform: 'translate(-50%, -50%) rotate(90deg)' }}>
        Age-standardized (Segi’s population) rate in China (per 100,000 persons)
      </div>
    </div>
  );
}
